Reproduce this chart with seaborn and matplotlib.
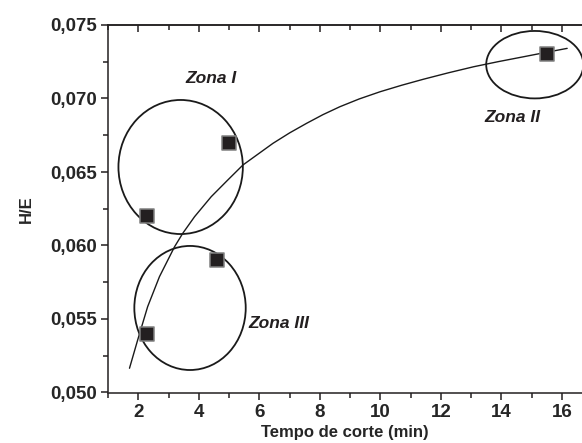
import numpy as np
import pandas as pd
import matplotlib
matplotlib.use("Agg")
import matplotlib.pyplot as plt
from matplotlib.patches import Ellipse
from matplotlib.ticker import MultipleLocator, FuncFormatter
import seaborn as sns

sns.set_style("ticks")
plt.rcParams['font.family'] = ['Liberation Sans', 'DejaVu Sans']

# measured points
tempo = [2.3, 5.0, 2.3, 4.6, 15.5]
he = [0.062, 0.067, 0.054, 0.059, 0.073]

# fitted curve
curve_x = [1.71, 1.98, 2.31, 2.70, 3.20, 3.47, 3.86, 4.41, 4.96, 5.46,
           6.45, 7.00, 7.56, 8.10, 8.66, 9.30, 9.99, 10.70, 11.42, 12.25,
           13.08, 13.90, 14.73, 15.45, 16.17]
curve_y = [0.05165, 0.05357, 0.05584, 0.05788, 0.05992, 0.06083, 0.06196,
           0.06332, 0.06446, 0.06548, 0.06695, 0.06766, 0.06831, 0.06890,
           0.06944, 0.06997, 0.07046, 0.07090, 0.07131, 0.07175,
           0.07216, 0.07251, 0.07284, 0.07313, 0.07341]

# zones: label, ellipse centre/size, label position
zone_names = ["Zona I", "Zona II", "Zona III"]
zone_cx = [3.40, 15.10, 3.71]
zone_cy = [0.06534, 0.0723, 0.05575]
zone_w = [4.11, 3.21, 3.68]
zone_h = [0.00912, 0.00459, 0.00844]
label_x = [4.42, 14.37, 6.63]
label_y = [0.07133, 0.06872, 0.05466]

pts = pd.DataFrame({"x": tempo, "y": he})
fit = pd.DataFrame({"x": curve_x, "y": curve_y})

fig = plt.figure(figsize=(5.82, 4.43), dpi=100)
ax = fig.add_axes([108 / 582, 50.5 / 443, 1 - 108 / 582, 367.5 / 443])

sns.lineplot(data=fit, x="x", y="y", sort=False, estimator=None,
             color="#1a1a1a", linewidth=1.0, ax=ax)
sns.scatterplot(data=pts, x="x", y="y", marker="s", s=95,
                color="#231f20", edgecolor="#808080", linewidth=1.1,
                ax=ax, zorder=5)

for i in range(len(zone_names)):
    ax.add_patch(Ellipse((zone_cx[i], zone_cy[i]), zone_w[i], zone_h[i],
                         fill=False, edgecolor="#1a1a1a", linewidth=1.3))
    ax.text(label_x[i], label_y[i], zone_names[i], fontsize=12.5,
            fontweight="bold", fontstyle="italic", ha="center", va="center",
            color="#231f20")

ax.set_xlim(1.0, 16.66)
ax.set_ylim(0.050, 0.075)
ax.xaxis.set_major_locator(MultipleLocator(2))
ax.xaxis.set_minor_locator(MultipleLocator(1))
ax.yaxis.set_major_locator(MultipleLocator(0.005))
ax.yaxis.set_minor_locator(MultipleLocator(0.0025))
ax.yaxis.set_major_formatter(FuncFormatter(lambda v, p: f"{v:.3f}".replace(".", ",")))
ax.xaxis.set_major_formatter(FuncFormatter(lambda v, p: f"{v:.0f}"))

ax.tick_params(which="both", direction="out", width=1.1, color="#231f20",
               top=False, right=False)
ax.tick_params(which="major", length=5, labelsize=13.5, pad=3)
ax.tick_params(which="minor", length=3.5)
for lab in ax.get_xticklabels() + ax.get_yticklabels():
    lab.set_fontweight("bold")

ax.spines["right"].set_visible(False)
for s in ["left", "bottom", "top"]:
    ax.spines[s].set_linewidth(1.1)
    ax.spines[s].set_color("#231f20")

top = ax.secondary_xaxis("top")
top.xaxis.set_major_locator(MultipleLocator(2))
top.xaxis.set_minor_locator(MultipleLocator(1))
top.tick_params(which="both", direction="in", width=1.1, color="#231f20",
                labeltop=False)
top.tick_params(which="major", length=5)
top.tick_params(which="minor", length=3.5)
top.spines["top"].set_linewidth(1.1)

ax.set_xlabel("Tempo de corte (min)", fontsize=12, fontweight="bold", labelpad=3)
ax.set_ylabel("H/E", fontsize=12, fontweight="bold", labelpad=12)

fig.savefig("out.png", dpi=100)
